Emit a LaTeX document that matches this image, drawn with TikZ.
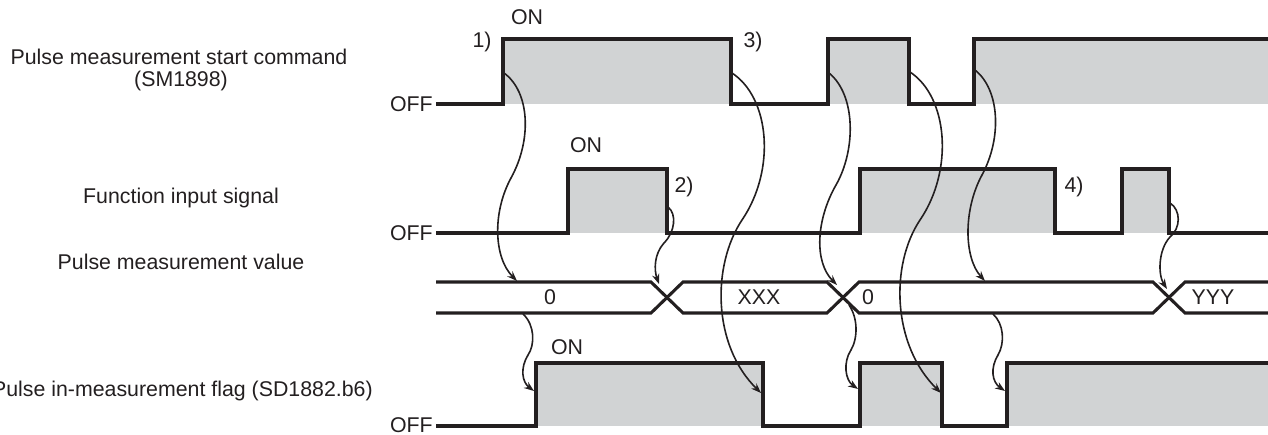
\documentclass[tikz,border=0pt]{standalone}
\usepackage{fontspec}
\setmainfont{Liberation Sans}
\usetikzlibrary{arrows.meta}
\definecolor{ink}{HTML}{231F20}
\definecolor{shade}{HTML}{D1D3D4}
\tikzset{
  sig/.style={draw=ink, line width=2.3pt, line join=miter},
  hi/.style={fill=shade},
  conn/.style={draw=ink, line width=1.2pt, -{Stealth[length=7.5pt,width=5.5pt]}},
  lbl/.style={font=\fontsize{16}{18}\selectfont, text=ink, inner sep=0pt},
}
\begin{document}
\begin{tikzpicture}[x=0.75pt,y=-0.75pt]
\useasboundingbox (0,0) rectangle (1268,435);

% ---------- left labels ----------
\node[lbl] (t1a) at (179,57) {Pulse measurement start command};
\node[lbl] (t1b) at (181,81) {(SM1898)};
\node[lbl] (t2) at (181,198) {Function input signal};
\node[lbl] (t3) at (181,262) {Pulse measurement value};
\node[lbl, anchor=east] (t4) at (373,391) {Pulse in-measurement flag (SD1882.b6)};

% ---------- OFF labels ----------
\node[lbl, anchor=east] (off1) at (433,104) {OFF};
\node[lbl, anchor=east] (off2) at (433,233) {OFF};
\node[lbl, anchor=east] (off4) at (433,425) {OFF};

% ---------- ON labels and numbers ----------
\node[lbl] (on1) at (527,17) {ON};
\node[lbl] (on2) at (586,145) {ON};
\node[lbl] (on4) at (567,347) {ON};
\node[lbl] (n1) at (482,42) {1)};
\node[lbl] (n3) at (753,42) {3)};
\node[lbl] (n2) at (684,187) {2)};
\node[lbl] (n4) at (1074,187) {4)};

% ---------- row 1 : start command ----------
\fill[hi] (503,39) rectangle (731,104);
\fill[hi] (828,39) rectangle (909,104);
\fill[hi] (974,39) rectangle (1268,104);
\draw[sig] (436,104) -- (503,104) -- (503,39) -- (731,39) -- (731,104) -- (828,104) -- (828,39) -- (909,39) -- (909,104) -- (974,104) -- (974,39) -- (1268,39);

% ---------- row 2 : function input ----------
\fill[hi] (568,169) rectangle (667,233);
\fill[hi] (860,169) rectangle (1055,233);
\fill[hi] (1122,169) rectangle (1169,233);
\draw[sig] (436,233) -- (568,233) -- (568,169) -- (667,169) -- (667,233) -- (860,233) -- (860,169) -- (1055,169) -- (1055,233) -- (1122,233) -- (1122,169) -- (1169,169) -- (1169,233) -- (1268,233);

% ---------- row 3 : measurement value bus ----------
\draw[sig] (436,282) -- (651,282) -- (683,313) -- (827,313) -- (859,282) -- (1153,282) -- (1185,313) -- (1268,313);
\draw[sig] (436,313) -- (651,313) -- (683,282) -- (827,282) -- (859,313) -- (1153,313) -- (1185,282) -- (1268,282);
\node[lbl] (v0) at (550,297) {0};
\node[lbl] (vx) at (759,297) {XXX};
\node[lbl] (v0b) at (868,297) {0};
\node[lbl] (vy) at (1213,297) {YYY};

% ---------- row 4 : in-measurement flag ----------
\fill[hi] (536,363) rectangle (763,426);
\fill[hi] (860,363) rectangle (942,426);
\fill[hi] (1007,363) rectangle (1268,426);
\draw[sig] (436,426) -- (536,426) -- (536,363) -- (763,363) -- (763,426) -- (860,426) -- (860,363) -- (942,363) -- (942,426) -- (1007,426) -- (1007,363) -- (1268,363);

% ---------- connector end points ----------
\coordinate (a1s) at (504,73);   \coordinate (a1e) at (517,281);
\coordinate (a2s) at (668,207);  \coordinate (a2e) at (659,284);
\coordinate (a3s) at (732,73);   \coordinate (a3e) at (761,393);
\coordinate (a4s) at (829,73);   \coordinate (a4e) at (837,285);
\coordinate (a5s) at (910,72);   \coordinate (a5e) at (941,393);
\coordinate (a6s) at (975,70);   \coordinate (a6e) at (985,281);
\coordinate (a7s) at (1170,203); \coordinate (a7e) at (1167,289);
\coordinate (a8s) at (523,314);  \coordinate (a8e) at (534,391);
\coordinate (a9s) at (849,305);  \coordinate (a9e) at (858,389);
\coordinate (a10s) at (993,314); \coordinate (a10e) at (1005,391);

% ---------- connectors ----------
\draw[conn] (a1s) .. controls (530,92) and (532,140) .. (511,178) .. controls (492,213) and (494,258) .. (a1e);
\draw[conn] (a2s) .. controls (677,214) and (675,232) .. (664,243) .. controls (654,254) and (654,270) .. (a2e);
\draw[conn] (a3s) .. controls (770,98) and (776,170) .. (742,220) .. controls (712,265) and (712,345) .. (a3e);
\draw[conn] (a4s) .. controls (856,95) and (856,150) .. (836,185) .. controls (816,220) and (814,262) .. (a4e);
\draw[conn] (a5s) .. controls (948,97) and (954,170) .. (920,220) .. controls (890,265) and (892,345) .. (a5e);
\draw[conn] (a6s) .. controls (1000,90) and (1002,138) .. (982,175) .. controls (963,210) and (964,258) .. (a6e);
\draw[conn] (a7s) .. controls (1181,210) and (1181,228) .. (1170,237) .. controls (1158,250) and (1158,275) .. (a7e);
\draw[conn] (a8s) .. controls (535,325) and (535,345) .. (528,355) .. controls (520,368) and (522,382) .. (a8e);
\draw[conn] (a9s) .. controls (858,318) and (858,338) .. (851,350) .. controls (843,362) and (845,380) .. (a9e);
\draw[conn] (a10s) .. controls (1004,324) and (1005,343) .. (998,355) .. controls (990,368) and (992,382) .. (a10e);
\end{tikzpicture}
\end{document}
